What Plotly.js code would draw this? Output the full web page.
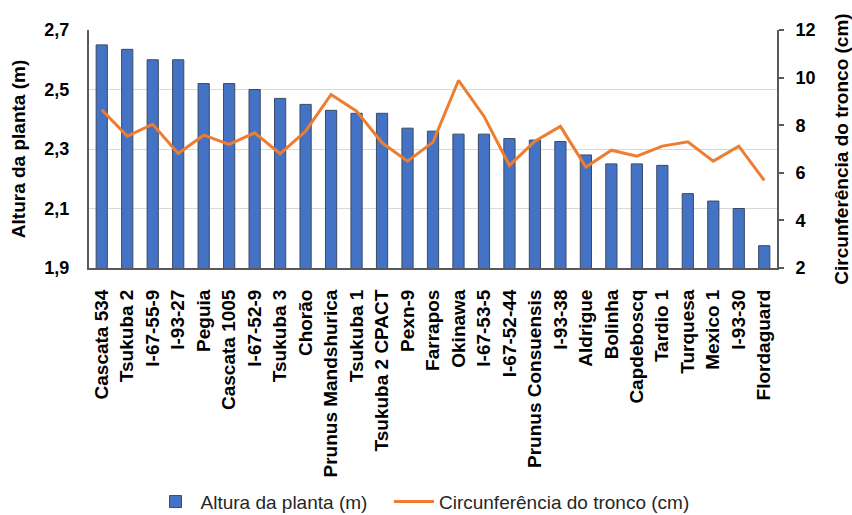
<!DOCTYPE html>
<html>
<head>
<meta charset="utf-8">
<script src="https://cdn.plot.ly/plotly-3.0.1.min.js"></script>
<style>html,body{margin:0;padding:0;background:#fff;}#chart{width:852px;height:515px;}</style>
</head>
<body>
<div id="chart"></div>
<script>
const categories = ["Cascata 534","Tsukuba 2","I-67-55-9","I-93-27","Peguia","Cascata 1005","I-67-52-9","Tsukuba 3","Chorão","Prunus Mandshurica","Tsukuba 1","Tsukuba 2 CPACT","Pexn-9","Farrapos","Okinawa","I-67-53-5","I-67-52-44","Prunus Consuensis","I-93-38","Aldrigue","Bolinha","Capdeboscq","Tardio 1","Turquesa","Mexico 1","I-93-30","Flordaguard"];
const altura = [2.65,2.635,2.60,2.60,2.52,2.52,2.50,2.47,2.45,2.43,2.42,2.42,2.37,2.36,2.35,2.35,2.335,2.33,2.325,2.28,2.25,2.25,2.245,2.15,2.125,2.10,1.975];
const circunferencia = [8.65,7.54,8.04,6.81,7.58,7.19,7.68,6.80,7.75,9.29,8.59,7.26,6.49,7.29,9.88,8.38,6.31,7.33,7.95,6.24,6.95,6.70,7.12,7.30,6.49,7.12,5.68];
const leftTicks = [1.9,2.1,2.3,2.5,2.7];
const rightTicks = [2,4,6,8,10,12];

const FONT = 'Liberation Sans, Arial, sans-serif';
const bold = (size) => ({family: FONT, size: size, color: '#000', weight: 'bold'});
const legendFont = {family: FONT, size: 19, color: '#262626'};

const traces = [
  {
    type: 'bar', x: categories, y: altura, name: 'Altura da planta (m)',
    marker: {color: '#4472C4', line: {color: '#3a4a63', width: 1}},
    yaxis: 'y', legend: 'legend'
  },
  {
    type: 'scatter', mode: 'lines', x: categories, y: circunferencia,
    name: 'Circunferência do tronco (cm)',
    line: {color: '#ED7D31', width: 3},
    yaxis: 'y2', legend: 'legend2'
  }
];

const layout = {
  width: 852, height: 515,
  margin: {l: 89, r: 75, t: 30, b: 247, autoexpand: false},
  paper_bgcolor: '#fff', plot_bgcolor: '#fff',
  separators: ',.',
  bargap: 0.56,
  showlegend: true,
  legend: {orientation: 'h', x: 0.0894, xanchor: 'left', y: -0.982, yanchor: 'middle',
           itemwidth: 40, font: legendFont},
  legend2: {orientation: 'h', x: 0.436, xanchor: 'left', y: -0.982, yanchor: 'middle',
           itemwidth: 40, font: legendFont},
  xaxis: {
    type: 'category', tickangle: -90, tickfont: bold(19),
    showline: true, linecolor: '#595959', linewidth: 2,
    showgrid: false, ticks: '', ticklabelstandoff: 12, automargin: false
  },
  yaxis: {
    range: [1.9, 2.7], tickvals: leftTicks, tickformat: '.1f',
    tickfont: bold(18), showline: true, linecolor: '#595959', linewidth: 2,
    showgrid: true, gridcolor: '#d9d9d9', gridwidth: 1, zeroline: false,
    ticks: '', ticklabelstandoff: 14,
    title: {text: 'Altura da planta (m)', font: bold(19), standoff: 14},
    automargin: false
  },
  yaxis2: {
    overlaying: 'y', side: 'right', range: [2, 12], tickvals: rightTicks,
    tickfont: bold(18), showline: true, linecolor: '#595959', linewidth: 2,
    showgrid: false, zeroline: false, ticks: 'outside', ticklen: 5, tickcolor: '#595959', tickwidth: 2,
    ticklabelstandoff: 8,
    title: {text: 'Circunferência do tronco (cm)', font: bold(19), standoff: 20},
    automargin: false
  }
};

Plotly.newPlot('chart', traces, layout, {displayModeBar: false, staticPlot: true});
</script>
</body>
</html>
